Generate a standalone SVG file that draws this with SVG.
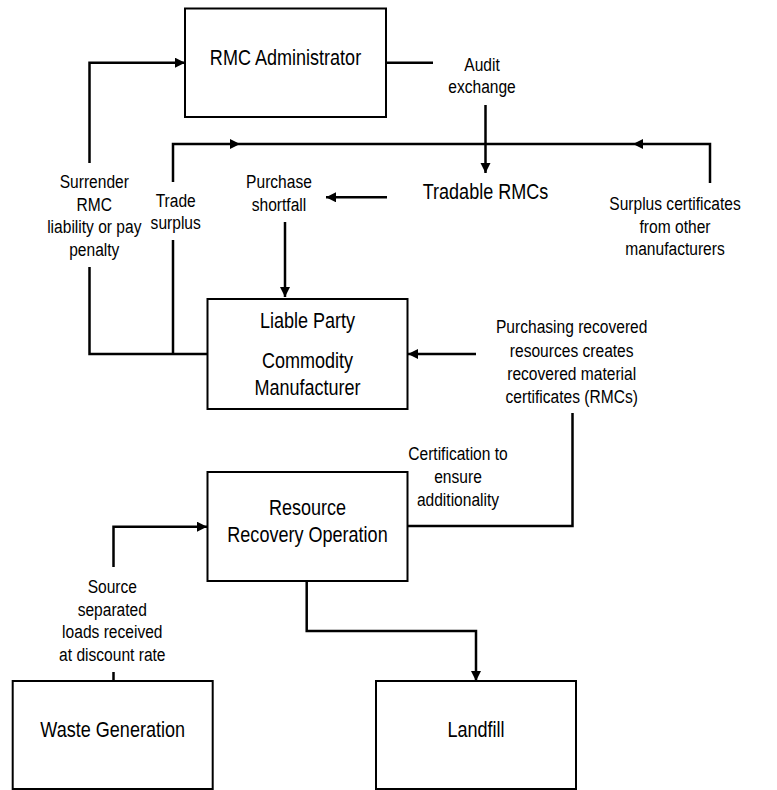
<svg xmlns="http://www.w3.org/2000/svg" width="777" height="790" viewBox="0 0 777 790">
<style>
.box{fill:#fff;stroke:#000;stroke-width:2}
.c{fill:none;stroke:#000;stroke-width:2.5}
.a{marker-end:url(#ah)}
text{font-family:"Liberation Sans",Arial,sans-serif;fill:#000;text-anchor:middle}
.bt{font-size:22px}
.lb{font-size:19px}
</style>
<defs>
<marker id="ah" markerUnits="userSpaceOnUse" markerWidth="11" markerHeight="11" refX="10" refY="5" orient="auto">
<path d="M0,0 L10,5 L0,10 Z" fill="#000"/>
</marker>
</defs>
<rect width="777" height="790" fill="#fff"/>
<g id="connectors">
<path class="c a" d="M89.5,163 V62.7 H185"/>
<path class="c" d="M386,62.7 H433"/>
<path class="c a" d="M173,182 V144 H240"/>
<path class="c" d="M240,144 H633"/>
<path class="c a" d="M710,183 V144 H633"/>
<path class="c a" d="M485.5,105 V173"/>
<path class="c a" d="M387,197.3 H326"/>
<path class="c a" d="M285,222 V297"/>
<path class="c" d="M89.5,267 V354 H207"/>
<path class="c" d="M173,240 V354"/>
<path class="c a" d="M476,354 H408"/>
<path class="c" d="M572.5,413 V526 H407"/>
<path class="c a" d="M113.5,567 V526.7 H207"/>
<path class="c" d="M113.5,672 V681"/>
<path class="c a" d="M306.7,581 V631 H476 V681"/>
</g>
<g id="rmc-admin">
<rect class="box" x="185" y="8.5" width="201" height="108.5"/>
<text class="bt" transform="translate(285.5,65) scale(0.82,1)">RMC Administrator</text>
</g>
<g id="liable-party">
<rect class="box" x="207.5" y="299" width="200" height="110"/>
<text class="bt" transform="translate(307.5,328) scale(0.82,1)">Liable Party</text>
<text class="bt" transform="translate(307.5,368) scale(0.82,1)"><tspan x="0" y="0">Commodity</tspan><tspan x="0" y="27">Manufacturer</tspan></text>
</g>
<g id="resource-recovery">
<rect class="box" x="207.5" y="472" width="200" height="109"/>
<text class="bt" transform="translate(307.5,515) scale(0.82,1)"><tspan x="0" y="0">Resource</tspan><tspan x="0" y="26.7">Recovery Operation</tspan></text>
</g>
<g id="waste-generation">
<rect class="box" x="12.7" y="681" width="200" height="108"/>
<text class="bt" transform="translate(112.7,736.7) scale(0.82,1)">Waste Generation</text>
</g>
<g id="landfill">
<rect class="box" x="376" y="681" width="200" height="108"/>
<text class="bt" transform="translate(476,736.7) scale(0.82,1)">Landfill</text>
</g>
<g id="tradable-rmcs">
<text class="bt" transform="translate(485.5,199) scale(0.82,1)">Tradable RMCs</text>
</g>
<g id="labels">
<text class="lb" transform="translate(482,71) scale(0.82,1)"><tspan x="0" y="0">Audit</tspan><tspan x="0" y="22.3">exchange</tspan></text>
<text class="lb" transform="translate(94.3,188.3) scale(0.82,1)"><tspan x="0" y="0">Surrender</tspan><tspan x="0" y="22.5">RMC</tspan><tspan x="0" y="45">liability or pay</tspan><tspan x="0" y="67.7">penalty</tspan></text>
<text class="lb" transform="translate(175.7,206.7) scale(0.82,1)"><tspan x="0" y="0">Trade</tspan><tspan x="0" y="22.6">surplus</tspan></text>
<text class="lb" transform="translate(279,188.3) scale(0.82,1)"><tspan x="0" y="0">Purchase</tspan><tspan x="0" y="22.4">shortfall</tspan></text>
<text class="lb" transform="translate(675,210) scale(0.82,1)"><tspan x="0" y="0">Surplus certificates</tspan><tspan x="0" y="23">from other</tspan><tspan x="0" y="45">manufacturers</tspan></text>
<text class="lb" transform="translate(571.7,333.3) scale(0.82,1)"><tspan x="0" y="0">Purchasing recovered</tspan><tspan x="0" y="23.3">resources creates</tspan><tspan x="0" y="46.7">recovered material</tspan><tspan x="0" y="69.4">certificates (RMCs)</tspan></text>
<text class="lb" transform="translate(458,460) scale(0.82,1)"><tspan x="0" y="0">Certification to</tspan><tspan x="0" y="23.3">ensure</tspan><tspan x="0" y="46">additionality</tspan></text>
<text class="lb" transform="translate(112.3,592.7) scale(0.82,1)"><tspan x="0" y="0">Source</tspan><tspan x="0" y="23">separated</tspan><tspan x="0" y="45.6">loads received</tspan><tspan x="0" y="68.3">at discount rate</tspan></text>
</g>
</svg>
